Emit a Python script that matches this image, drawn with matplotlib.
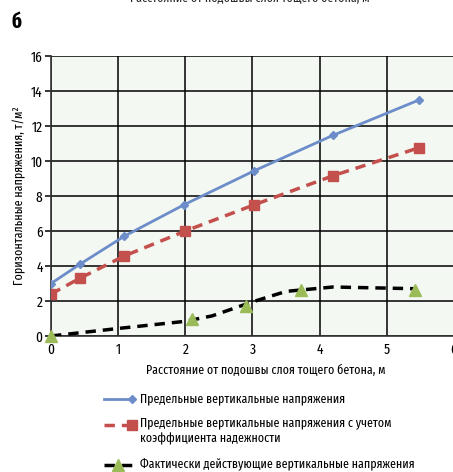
import matplotlib
matplotlib.use("Agg")
import matplotlib.pyplot as plt
from matplotlib.lines import Line2D

plt.rcParams['font.family'] = ['Fira Sans Extra Condensed', 'Roboto Condensed', 'DejaVu Sans']

# Data
blue_x = [0, 0.43, 1.09, 1.98, 3.02, 4.2, 5.48]
blue_y = [3.0, 4.1, 5.7, 7.5, 9.43, 11.47, 13.49]
red_x = [0, 0.43, 1.09, 2.0, 3.02, 4.2, 5.48]
red_y = [2.4, 3.3, 4.57, 6.0, 7.49, 9.16, 10.76]
black_x = [0, 1, 2, 2.4, 3, 3.5, 4.2, 5.45]
black_y = [0, 0.43, 0.84, 1.15, 1.95, 2.55, 2.8, 2.7]
tri_x = [0, 2.1, 2.91, 3.72, 5.42]
tri_y = [0, 0.95, 1.72, 2.63, 2.63]
x_ticks = [0, 1, 2, 3, 4, 5, 6]
y_ticks = [0, 2, 4, 6, 8, 10, 12, 14, 16]
labels = ["Предельные вертикальные напряжения",
          "Предельные вертикальные напряжения с учетом\nкоэффициента надежности",
          "Фактически действующие вертикальные напряжения"]

W, H = 453, 472
fig = plt.figure(figsize=(W/100, H/100), dpi=100)
ax = fig.add_axes([51/W, 1-336/H, (454-51)/W, (336-56)/H])
ax.set_facecolor('#F3F8F2')

blue = '#6C8DC9'
red = '#C4504E'
green = '#9BBB59'

ax.plot(blue_x, blue_y, color=blue, lw=2, marker='D', ms=4.5, zorder=4)
ax.plot(red_x, red_y, color=red, lw=2.5, ls=(0, (3, 2)), marker='s', ms=6.5, zorder=4)
ax.plot(black_x, black_y, color='black', lw=2.5, ls=(0, (3, 2)), zorder=3)
ax.plot(tri_x, tri_y, ls='none', marker='^', color=green, ms=8, zorder=5, clip_on=False)

ax.set_xlim(0, 6)
ax.set_ylim(0, 16)
ax.set_xticks(x_ticks)
ax.set_yticks(y_ticks)
ax.grid(True, color='black', lw=1.1)
ax.set_axisbelow(True)
for s in ['top', 'right']:
    ax.spines[s].set_visible(False)
for s in ['left', 'bottom']:
    ax.spines[s].set_linewidth(1.2)
    ax.spines[s].set_color('#333333')
ax.tick_params(axis='y', length=4, width=1.1, labelsize=10.5, pad=2)
ax.tick_params(axis='x', length=0, labelsize=10.5, pad=5)

fs = 9.3
ax.set_xlabel("Расстояние от подошвы слоя тощего бетона, м", fontsize=fs, labelpad=4)
ax.xaxis.set_label_coords((266-51)/(454-51), -0.1)
ax.set_ylabel("Горизонтальные напряжения, т/м²", fontsize=fs, labelpad=3)

fig.text(12/W, 1-28/H, "б", fontsize=15, fontweight='bold', ha='left', va='baseline')
fig.text(250/W, 1-2/H, "Расстояние от подошвы слоя тощего бетона, м", fontsize=fs,
         ha='center', va='baseline', color='#222222')

# Legend (manual)
rows = [399, 425, 465]
styles = [dict(color=blue, lw=2, marker='D', ms=4.5, ls='-'),
          dict(color=red, lw=2.5, marker='s', ms=6.5, ls=(0, (3, 2))),
          dict(color='black', lw=2.5, ls=(0, (3, 2)))]
for r, st, lab in zip(rows, styles, labels):
    y = 1 - r/H
    fig.add_artist(Line2D([104/W, 132/W], [y, y], markevery=[1] if 'marker' in st else None, **st))
    if st['color'] == 'black':
        fig.add_artist(Line2D([118/W], [y], marker='^', color=green, ms=8, ls='none'))
    fig.text(140/W, y, lab, fontsize=fs, ha='left', va='top' if '\n' in lab else 'center',
             linespacing=1.35)
fig.texts[-2].set_position((140/W, 1 - (rows[1]-8)/H))

fig.savefig("out.png", dpi=100)
